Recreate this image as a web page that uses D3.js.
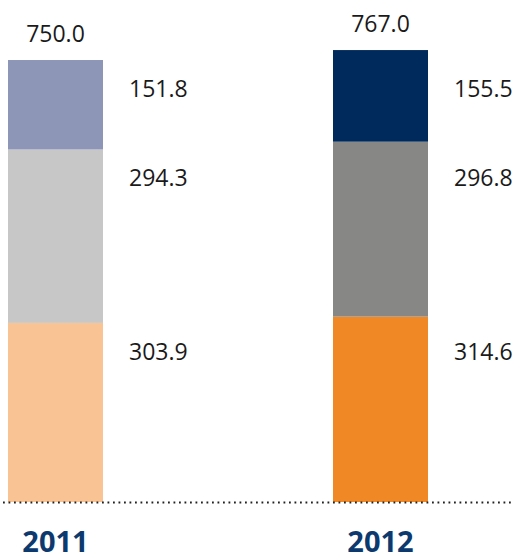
<!DOCTYPE html>
<html>
<head>
<meta charset="utf-8">
<script src="https://cdn.jsdelivr.net/npm/d3@7/dist/d3.min.js"></script>
<style>
  html, body { margin: 0; padding: 0; background: #fff; }
  svg { display: block; }
</style>
</head>
<body>
<svg id="chart" width="516" height="555"></svg>
<script>
const years = ["2011", "2012"];
const layers = ["bottom", "middle", "top"];
const bottomValues = [303.9, 314.6];
const middleValues = [294.3, 296.8];
const topValues = [151.8, 155.5];
const totals = [750.0, 767.0];
const colors2011 = ["#f9c393", "#c6c7c6", "#8e96b8"];
const colors2012 = ["#f08825", "#878785", "#002a5c"];

const svg = d3.select("#chart");
const W = 516, H = 555;
const baseY = 502;

const x = d3.scaleBand().domain(years).range([8, 428]).paddingInner(0.7077).paddingOuter(0);
const y = d3.scaleLinear().domain([0, d3.max(totals)]).range([baseY, 50]);

const data = years.map((yr, i) => ({
  year: yr,
  bottom: bottomValues[i],
  middle: middleValues[i],
  top: topValues[i],
  total: totals[i],
  colors: i === 0 ? colors2011 : colors2012
}));

const stack = d3.stack().keys(layers);
const series = stack(data);

const textColor = "#1a1a1a";
const font = "'Open Sans', 'Noto Sans', sans-serif";

// bars
series.forEach((s, li) => {
  svg.append("g").selectAll("rect")
    .data(s)
    .join("rect")
    .attr("x", d => x(d.data.year))
    .attr("width", x.bandwidth())
    .attr("y", d => y(d[1]))
    .attr("height", d => y(d[0]) - y(d[1]))
    .attr("fill", d => d.data.colors[li]);
});

// segment labels: right of each bar, aligned across years at lowest segment top
series.forEach((s, li) => {
  const refTop = d3.min(s, d => d[1]);
  svg.append("g").selectAll("text")
    .data(s)
    .join("text")
    .attr("x", d => x(d.data.year) + x.bandwidth() + 26)
    .attr("y", y(refTop) + 37)
    .attr("font-family", font)
    .attr("font-size", 23)
    .attr("fill", textColor)
    .text(d => d.data[layers[li]].toFixed(1));
});

// totals above bars
svg.append("g").selectAll("text")
  .data(data)
  .join("text")
  .attr("x", d => x(d.year) + x.bandwidth() / 2)
  .attr("y", d => y(d.total) - 18)
  .attr("text-anchor", "middle")
  .attr("font-family", font)
  .attr("font-size", 23)
  .attr("fill", textColor)
  .text(d => d.total.toFixed(1));

// dotted baseline
svg.append("line")
  .attr("x1", 3).attr("x2", 514)
  .attr("y1", y(0) + 0.5).attr("y2", y(0) + 0.5)
  .attr("stroke", "#222")
  .attr("stroke-width", 1.8)
  .attr("stroke-dasharray", "1.8 3.7");

// year labels
svg.append("g").selectAll("text")
  .data(years)
  .join("text")
  .attr("x", d => x(d) + x.bandwidth() / 2)
  .attr("y", 552)
  .attr("text-anchor", "middle")
  .attr("font-family", font)
  .attr("font-weight", "bold")
  .attr("font-size", 29)
  .attr("fill", "#0d3a6e")
  .text(d => d);
</script>
</body>
</html>
